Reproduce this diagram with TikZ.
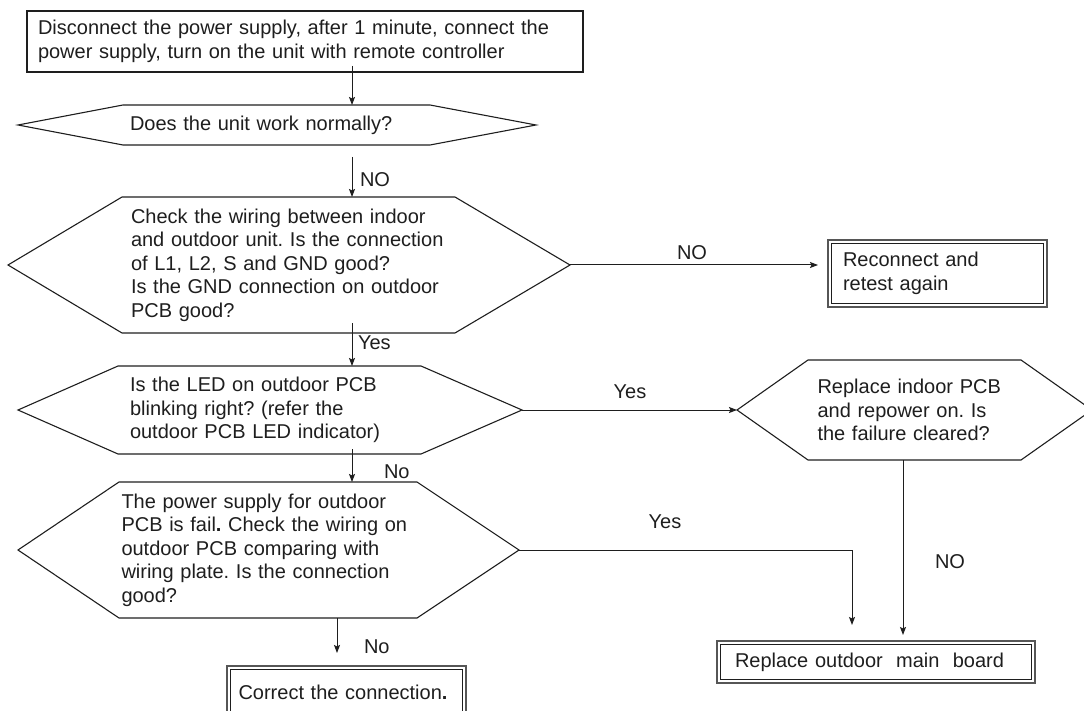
\documentclass[tikz,border=0pt]{standalone}
\usepackage{fontspec}
\setmainfont{Liberation Sans}
\usetikzlibrary{arrows.meta,calc}
\definecolor{ink}{HTML}{1E1E1E}
\frenchspacing
\newcommand\hexdraw[3]{\draw[hexline] (#1.west) -- ([xshift=#2pt]#1.north west) -- ([xshift=-#3pt]#1.north east) -- (#1.east) -- ([xshift=-#3pt]#1.south east) -- ([xshift=#2pt]#1.south west) -- cycle;}
\newcommand\innerframe[1]{\draw[frameline] ([shift={(3.5pt,-3.5pt)}]#1.north west) rectangle ([shift={(-3.5pt,3.5pt)}]#1.south east);}
\begin{document}
\begin{tikzpicture}[x=1pt,y=-1pt,
  every node/.style={font=\fontsize{20}{23.5}\selectfont\frenchspacing, text=ink, inner sep=0pt, outer sep=0pt},
  plainbox/.style={draw=ink, line width=1.1pt, align=left},
  dblbox/.style={draw=ink!75, line width=1.1pt, align=left},
  frameline/.style={draw=ink, line width=1.1pt},
  hexnode/.style={align=left},
  hexline/.style={draw=ink, line width=1.1pt},
  conn/.style={draw=ink, line width=1pt},
  arr/.style={conn, -{Stealth[length=8pt,width=6pt,inset=1.5pt]}},
  lab/.style={anchor=west}]
\useasboundingbox (0,0) rectangle (1084,711);

% x positions of vertical connectors
\coordinate (ax) at (352,0);
\coordinate (bx) at (337,0);
\coordinate (lx) at (852,0);
\coordinate (rx) at (903,0);

\node[plainbox, minimum width=556pt, minimum height=61pt, text width=534pt] (top) at (305,41.5)
  {Disconnect the power supply, after 1 minute, connect the\\power supply, turn on the unit with remote controller};

\node[hexnode, minimum width=518pt, minimum height=40pt, text width=294pt] (h1) at (277,125)
  {Does the unit work normally?};
\hexdraw{h1}{105}{106}

\node[hexnode, minimum width=562pt, minimum height=136pt, text width=316pt] (h2) at (289,265)
  {Check the wiring between indoor\\and outdoor unit. Is the connection\\of L1, L2, S and GND good?\\Is the GND connection on outdoor\\PCB good?};
\hexdraw{h2}{114}{115}

\node[dblbox, minimum width=219pt, minimum height=67pt, text width=189pt] (rec) at (937.5,273.5)
  {Reconnect and\\retest again};
\innerframe{rec}

\node[hexnode, minimum width=504pt, minimum height=88pt, text width=280pt] (h3) at (270,410)
  {Is the LED on outdoor PCB\\blinking right? (refer the\\outdoor PCB LED indicator)};
\hexdraw{h3}{100}{101}

\node[hexnode, minimum width=355pt, minimum height=100pt, text width=194pt] (h4) at (914.5,410)
  {Replace indoor PCB\\and repower on. Is\\the failure cleared?};
\hexdraw{h4}{71}{71}

\node[hexnode, minimum width=501pt, minimum height=136pt, text width=294pt] (h5) at (268.5,550)
  {The power supply for outdoor\\PCB is fail{\bfseries.} Check the wiring on\\outdoor PCB comparing with\\wiring plate. Is the connection\\good?};
\hexdraw{h5}{101}{102}

\node[dblbox, minimum width=318pt, minimum height=42pt, text width=282pt] (rep) at (876,662)
  {Replace outdoor\ \ main\ \ board};
\innerframe{rep}

\node[dblbox, minimum width=239pt, minimum height=52pt, text width=216pt] (cor) at (346.5,692)
  {Correct the connection{\bfseries.}};
\innerframe{cor}

% connectors
\draw[arr] ($(top.south -| ax)+(0,-6)$) -- (h1.north -| ax);
\draw[arr] ($(h1.south -| ax)+(0,12)$) -- (h2.north -| ax);
\node[lab] (l1) at (360,180) {NO};
\draw[arr] ($(h2.south -| ax)+(0,-10)$) -- (h3.north -| ax);
\node[lab] (l2) at (358,343) {Yes};
\draw[arr, shorten >=10pt] (h2.east) -- (h2.east -| rec.west);
\node (l3) at (692,253) {NO};
\draw[arr] (h3.east) -- (h4.west);
\node (l4) at (630,392) {Yes};
\draw[arr] ($(h3.south -| ax)+(0,-5)$) -- (h5.north -| ax);
\node[lab] (l5) at (384,472) {No};
\draw[arr] (h5.east) -| ($(rep.north -| lx)+(0,-16)$);
\node (l6) at (665,522) {Yes};
\draw[arr] (h4.south -| rx) -- ($(rep.north -| rx)+(0,-6)$);
\node (l7) at (950,562) {NO};
\draw[arr] (h5.south -| bx) -- ($(cor.north -| bx)+(0,-13)$);
\node[lab] (l8) at (364,647) {No};
\end{tikzpicture}
\end{document}
